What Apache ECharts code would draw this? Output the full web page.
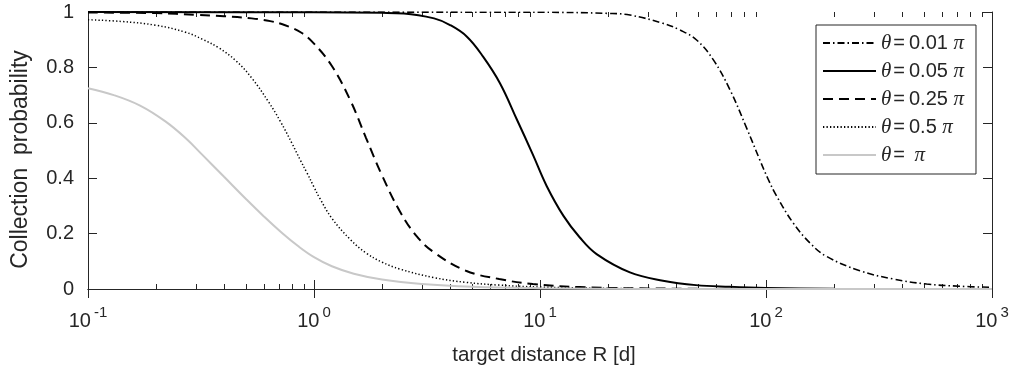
<!DOCTYPE html>
<html>
<head>
<meta charset="utf-8">
<script src="https://cdn.jsdelivr.net/npm/echarts@6/dist/echarts.min.js"></script>
<style>
  html, body { margin: 0; padding: 0; background: #fff; }
  #chart { width: 1017px; height: 371px; }
</style>
</head>
<body>
<div id="chart"></div>
<script>
// Collection probability vs. target distance R [d] for five opening angles θ.
// Each curve: R sample points (x) and probability (y).
const r001 = [0.1, 10, 20, 25, 35, 41.6, 49.3, 58.5, 69.3, 82.2, 94, 102, 111, 132, 157, 185, 260, 366, 514, 720, 1000];
const p001 = [1.0, 0.999, 0.995, 0.989, 0.959, 0.935, 0.899, 0.827, 0.719, 0.58, 0.465, 0.398, 0.338, 0.238, 0.165, 0.118, 0.066, 0.036, 0.018, 0.01, 0.006];

const r005 = [0.1, 1, 2, 2.5, 3.4, 4, 4.75, 5.6, 6.65, 7.9, 9.3, 10.7, 12.7, 15, 17.8, 25, 35, 49, 69, 100, 200, 1000];
const p005 = [1.0, 0.999, 0.997, 0.995, 0.977, 0.953, 0.911, 0.839, 0.743, 0.612, 0.485, 0.372, 0.264, 0.186, 0.126, 0.06, 0.03, 0.014, 0.008, 0.004, 0.001, 0.0];

const r025 = [0.1, 0.2, 0.3, 0.4, 0.53, 0.64, 0.74, 0.88, 1.0, 1.2, 1.45, 1.7, 2.0, 2.4, 2.85, 3.4, 4.7, 6.6, 9.3, 15, 30, 100, 1000];
const p025 = [0.998, 0.996, 0.99, 0.985, 0.977, 0.967, 0.953, 0.925, 0.886, 0.805, 0.68, 0.545, 0.41, 0.28, 0.19, 0.132, 0.066, 0.036, 0.018, 0.007, 0.002, 0.0, 0.0];

const r05 = [0.1, 0.14, 0.2, 0.27, 0.32, 0.38, 0.45, 0.53, 0.63, 0.71, 0.8, 0.87, 0.93, 1.0, 1.06, 1.2, 1.45, 1.7, 2.0, 2.4, 3.4, 4.7, 6.6, 10, 30, 100, 1000];
const p05 = [0.972, 0.966, 0.952, 0.927, 0.902, 0.87, 0.825, 0.762, 0.675, 0.605, 0.525, 0.465, 0.42, 0.368, 0.328, 0.255, 0.178, 0.13, 0.097, 0.072, 0.041, 0.024, 0.014, 0.007, 0.001, 0.0, 0.0];

const r1 = [0.1, 0.13, 0.17, 0.22, 0.27, 0.32, 0.4, 0.5, 0.6, 0.72, 0.85, 1.0, 1.2, 1.5, 2, 3, 5, 10, 30, 100, 1000];
const p1 = [0.725, 0.70, 0.662, 0.605, 0.545, 0.485, 0.405, 0.325, 0.262, 0.203, 0.155, 0.115, 0.082, 0.055, 0.034, 0.018, 0.008, 0.003, 0.0003, 0.0, 0.0];

const seriesNames = ['θ=0.01 π', 'θ=0.05 π', 'θ=0.25 π', 'θ=0.5 π', 'θ= π'];

// Axis ticks
const xTickValues = [0.1, 1, 10, 100, 1000];
const xTickExponents = ['-1', '0', '1', '2', '3'];
const yTickLabels = ['0', '0.2', '0.4', '0.6', '0.8', '1'];
const xMinorTicks = [0.2, 0.3, 0.4, 0.5, 0.6, 0.7, 0.8, 0.9,
                     2, 3, 4, 5, 6, 7, 8, 9,
                     20, 30, 40, 50, 60, 70, 80, 90,
                     200, 300, 400, 500, 600, 700, 800, 900];

const INK = '#262626';
const SANS = 'Liberation Sans, Arial, Helvetica, sans-serif';
const SERIF = 'Liberation Serif, Times New Roman, serif';

function pairs(xs, ys) { return xs.map((x, i) => [x, ys[i]]); }

function curve(name, xs, ys, lineStyle) {
  return {
    name, type: 'line', data: pairs(xs, ys),
    xAxisIndex: 0, yAxisIndex: 0,
    showSymbol: false, symbol: 'none',
    smooth: 0.4,
    itemStyle: { color: lineStyle.color },
    lineStyle, emphasis: { disabled: true },
    animation: false
  };
}

const chart = echarts.init(document.getElementById('chart'), null, { renderer: 'canvas' });

const xAxisCommon = {
  type: 'log', logBase: 10, min: 0.1, max: 1000,
  axisLine: { show: true, lineStyle: { color: INK, width: 1 } },
  axisTick: { show: true, inside: true, length: 9, lineStyle: { color: INK, width: 1 } },
  splitLine: { show: false },
  minorTick: { show: false }
};
const yAxisCommon = {
  type: 'value', min: 0, max: 1, interval: 0.2,
  axisLine: { show: true, lineStyle: { color: INK, width: 1 } },
  axisTick: { show: true, inside: true, length: 9, lineStyle: { color: INK, width: 1 } },
  splitLine: { show: false }
};

chart.setOption({
  backgroundColor: '#fff',
  animation: false,
  grid: { left: 88, right: 25, top: 12, bottom: 81, containLabel: false },
  xAxis: [
    Object.assign({}, xAxisCommon, {
      position: 'bottom',
      name: 'target distance R [d]',
      nameLocation: 'middle', nameGap: 56,
      nameTextStyle: { fontFamily: SANS, fontSize: 20.5, color: INK, padding: [0, 0, 0, 8] },
      axisLabel: {
        margin: 16,
        formatter: v => {
          const i = xTickValues.findIndex(t => Math.abs(Math.log10(t) - Math.log10(v)) < 1e-6);
          return i < 0 ? '' : '{b|10}{s|' + xTickExponents[i] + '}';
        },
        rich: {
          b: { fontFamily: SANS, fontSize: 20, color: INK },
          s: { fontFamily: SANS, fontSize: 15, color: INK, padding: [0, 0, 18, 3] }
        }
      }
    }),
    Object.assign({}, xAxisCommon, { position: 'top', axisLabel: { show: false } })
  ],
  yAxis: [
    Object.assign({}, yAxisCommon, {
      position: 'left',
      name: 'Collection  probability',
      nameLocation: 'middle', nameGap: 56,
      nameTextStyle: { fontFamily: SANS, fontSize: 23, color: INK, padding: [0, 18, 0, 0] },
      axisLabel: {
        margin: 14, fontFamily: SANS, fontSize: 20, color: INK,
        formatter: v => yTickLabels[Math.round(v / 0.2)]
      }
    }),
    Object.assign({}, yAxisCommon, { position: 'right', axisLabel: { show: false } })
  ],
  legend: {
    data: seriesNames,
    orient: 'vertical', left: 816, top: 25,
    itemWidth: 53, itemHeight: 14, itemGap: 6,
    padding: [7, 12, 8, 6],
    borderColor: INK, borderWidth: 1, backgroundColor: '#fff',
    selectedMode: false,
    itemStyle: { opacity: 0 },
    formatter: name => {
      const m = name.match(/^θ=(.*)π$/);
      return '{th|θ}{eq|=}' + m[1].replace(/ $/, '') + ' {pi|π}';
    },
    textStyle: {
      fontFamily: SANS, fontSize: 20, color: INK, lineHeight: 22,
      rich: {
        th: { fontFamily: SERIF, fontStyle: 'italic', fontSize: 21, color: INK },
        eq: { fontFamily: SANS, fontSize: 20, color: INK, padding: [0, 4, 0, 2] },
        pi: { fontFamily: SERIF, fontStyle: 'italic', fontSize: 21, color: INK }
      }
    }
  },
  series: [
    curve(seriesNames[0], r001, p001, { color: '#000', width: 1.6, type: [7, 3, 1.5, 3] }),
    curve(seriesNames[1], r005, p005, { color: '#000', width: 2 }),
    curve(seriesNames[2], r025, p025, { color: '#000', width: 2, type: [10, 6] }),
    curve(seriesNames[3], r05, p05, { color: '#000', width: 1.5, type: [1.3, 2.2] }),
    curve(seriesNames[4], r1, p1, { color: '#c8c8c8', width: 2 }),
    {
      // minor ticks of the logarithmic x axis, bottom and top edges
      type: 'custom', xAxisIndex: 0, yAxisIndex: 0, silent: true, animation: false,
      data: xMinorTicks.map(v => [v, 0]),
      encode: { x: 0, y: 1 },
      renderItem: (params, api) => {
        const x = Math.round(api.coord([api.value(0), 0])[0]) + 0.5;
        const cs = params.coordSys;
        const st = { stroke: INK, lineWidth: 1 };
        return {
          type: 'group',
          children: [
            { type: 'line', shape: { x1: x, y1: cs.y + cs.height, x2: x, y2: cs.y + cs.height - 5 }, style: st },
            { type: 'line', shape: { x1: x, y1: cs.y, x2: x, y2: cs.y + 5 }, style: st }
          ]
        };
      }
    }
  ]
});
</script>
</body>
</html>
